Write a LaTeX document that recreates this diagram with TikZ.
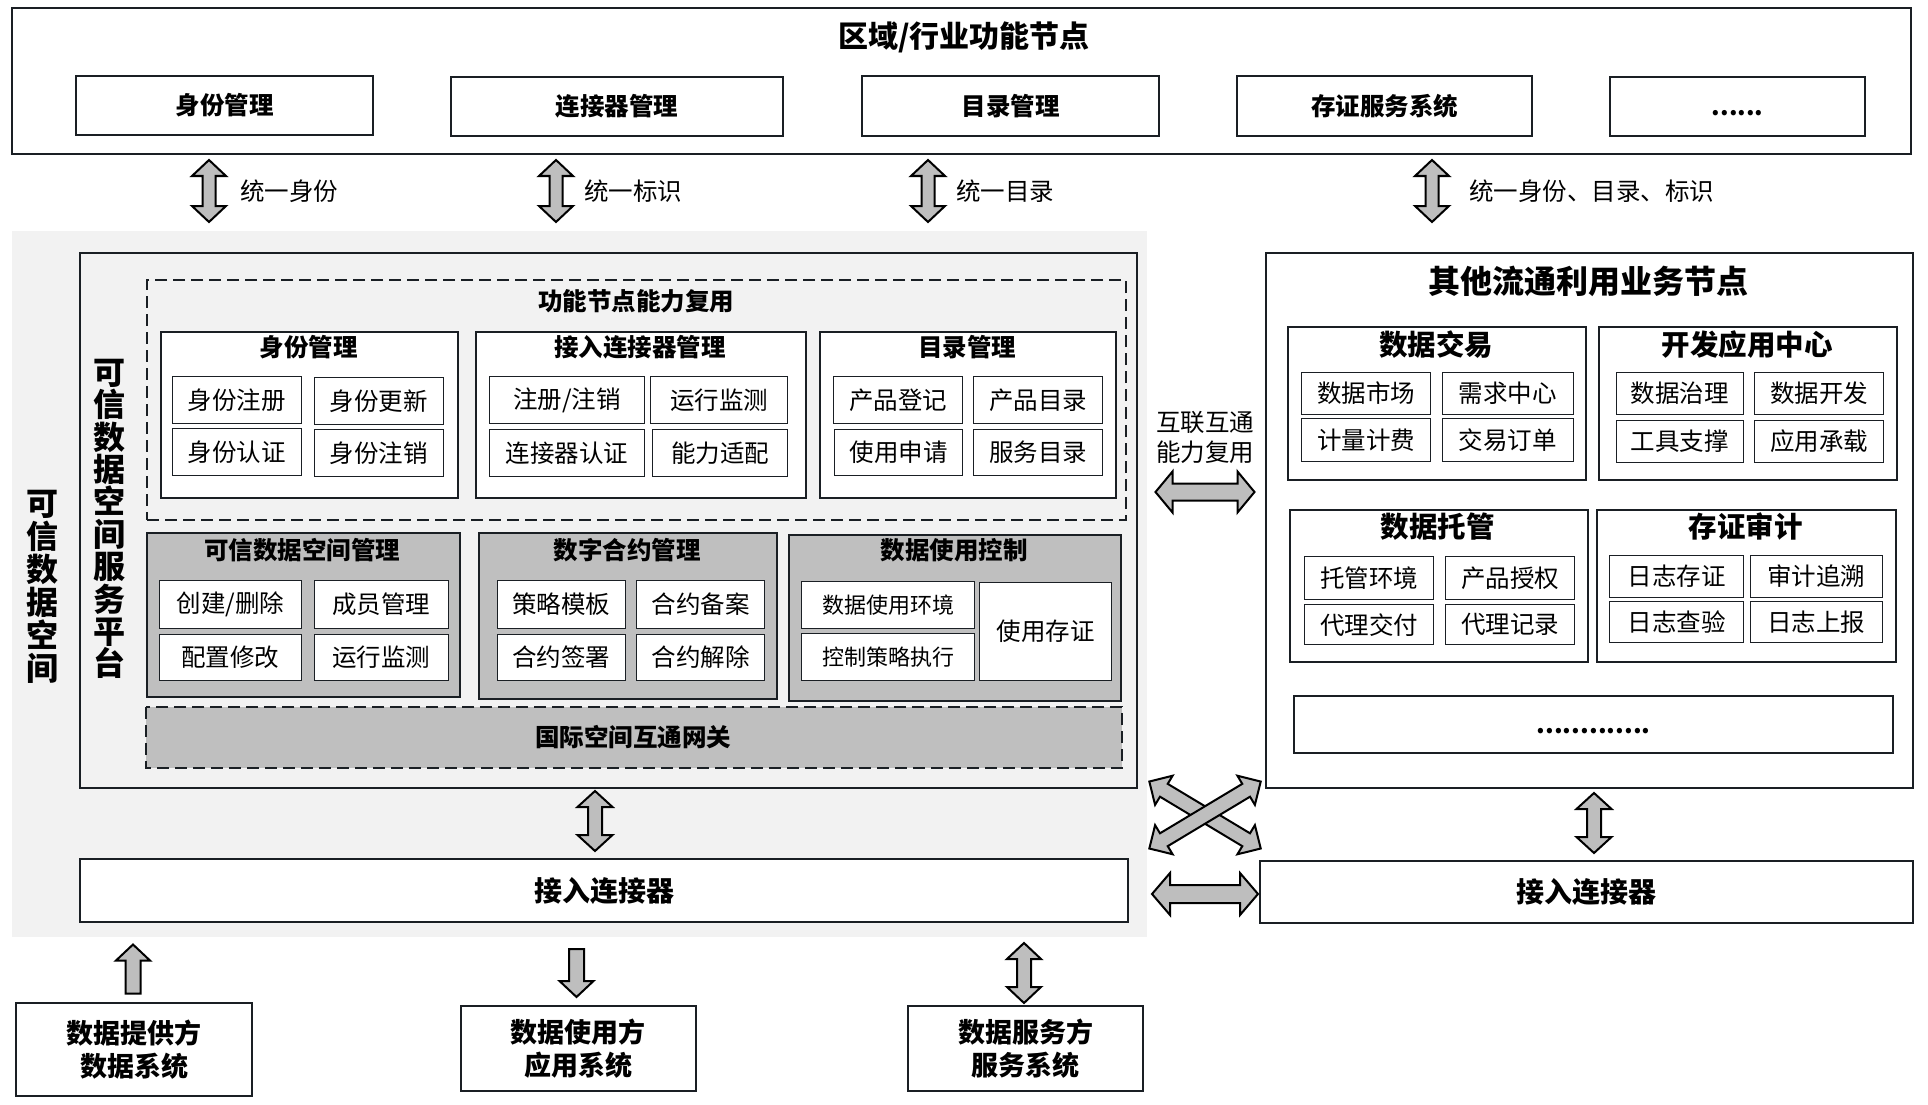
\documentclass[tikz,border=0pt]{standalone}
\usepackage{fontspec}
\setmainfont{Noto Sans CJK SC}
\definecolor{bc}{HTML}{1A1F24}
\definecolor{lg}{HTML}{F2F2F2}
\definecolor{mg}{HTML}{BFBFBF}
\definecolor{ag}{HTML}{BEBEBE}
\tikzset{
  frame/.style={draw=bc, line width=2.2pt},
  wbox/.style={frame, fill=white},
  lbox/.style={frame, fill=lg},
  gbox/.style={frame, fill=mg},
  dbox/.style={draw=bc, line width=2pt, dash pattern=on 12pt off 6pt},
  item/.style={draw=bc, line width=1.2pt, fill=white, font=\fontsize{24.5}{29}\selectfont},
  ttl/.style={font=\fontsize{24.5}{29}\selectfont\bfseries, inner sep=0pt},
  bigttl/.style={font=\fontsize{30}{36}\selectfont\bfseries, inner sep=0pt},
  lbl/.style={font=\fontsize{24.5}{30}\selectfont, inner sep=0pt},
  blk/.style={draw=black, line width=2pt, fill=ag, line join=miter},
}
\newcommand{\bx}[7]{\node[#2, anchor=north west, inner sep=0pt, minimum width={(#5)-(#3)}, minimum height={(#6)-(#4)}] (#1) at (#3,#4) {#7};}
% double arrow: cx cy angle L H S K
\newcommand{\dblarrow}[7]{\begin{scope}[shift={(#1,#2)}, rotate=#3]
 \draw[blk] ({-#4/2},0) -- ({-#4/2+#7},{#5}) -- ({-#4/2+#7},{#6}) -- ({#4/2-#7},{#6}) -- ({#4/2-#7},{#5}) -- ({#4/2},0) -- ({#4/2-#7},{-#5}) -- ({#4/2-#7},{-#6}) -- ({-#4/2+#7},{-#6}) -- ({-#4/2+#7},{-#5}) -- cycle;
\end{scope}}
\newcommand{\sglarrow}[7]{\begin{scope}[shift={(#1,#2)}, rotate=#3]
 \draw[blk] ({#4/2},0) -- ({#4/2-#7},{#5}) -- ({#4/2-#7},{#6}) -- ({-#4/2},{#6}) -- ({-#4/2},{-#6}) -- ({#4/2-#7},{-#6}) -- ({#4/2-#7},{-#5}) -- cycle;
\end{scope}}
\begin{document}
\begin{tikzpicture}[x=1pt,y=-1pt]
\useasboundingbox[fill=white] (0,0) rectangle (1928,1105);

% ---------- top regional nodes ----------
\bx{top}{wbox}{11}{7}{1910}{153}{}
\node[bigttl] (toptitle) at (964,37) {区域/行业功能节点};
\bx{t1}{wbox}{75}{75}{372}{134}{\fontsize{24.5}{29}\selectfont\bfseries 身份管理}
\bx{t2}{wbox}{450}{76}{782}{135}{\fontsize{24.5}{29}\selectfont\bfseries 连接器管理}
\bx{t3}{wbox}{861}{75}{1158}{135}{\fontsize{24.5}{29}\selectfont\bfseries 目录管理}
\bx{t4}{wbox}{1236}{75}{1531}{135}{\fontsize{24.5}{29}\selectfont\bfseries 存证服务系统}
\bx{t5}{wbox}{1609}{76}{1864}{135}{\fontsize{24.5}{29}\selectfont\bfseries \vphantom{国}......}

\dblarrow{209}{191}{90}{62}{17}{6.5}{16}
\dblarrow{556}{191}{90}{62}{17}{6.5}{16}
\dblarrow{928}{191}{90}{62}{17}{6.5}{16}
\dblarrow{1432}{191}{90}{62}{17}{6.5}{16}
\node[lbl, anchor=west] (u1) at (240,191) {统一身份};
\node[lbl, anchor=west] (u2) at (584,191) {统一标识};
\node[lbl, anchor=west] (u3) at (956,191) {统一目录};
\node[lbl, anchor=west] (u4) at (1469,191) {统一身份、目录、标识};

% ---------- trusted data space ----------
\fill[lg] (12,231) rectangle (1147,937);
\bx{plat}{lbox}{79}{252}{1136}{787}{}
\node[font=\fontsize{32}{33}\selectfont\bfseries, align=center, inner sep=0pt] (vt1) at (42,587) {可\\信\\数\\据\\空\\间};
\node[font=\fontsize{32}{32.4}\selectfont\bfseries, align=center, inner sep=0pt] (vt2) at (109,519) {可\\信\\数\\据\\空\\间\\服\\务\\平\\台};

\bx{reuse}{dbox}{146}{279}{1125}{519}{}
\node[ttl] (reuset) at (636,301) {功能节点能力复用};

\bx{s1}{wbox}{160}{331}{457}{497}{}
\node[ttl] at (308.5,347) {身份管理};
\bx{s1a}{item}{171.5}{376}{301}{423}{身份注册}
\bx{s1b}{item}{313.5}{377}{442.5}{424}{身份更新}
\bx{s1c}{item}{171.5}{428}{301}{475}{身份认证}
\bx{s1d}{item}{313.5}{429}{442.5}{476}{身份注销}

\bx{s2}{wbox}{475}{331}{805}{497}{}
\node[ttl] at (640,347) {接入连接器管理};
\bx{s2a}{item}{489}{376}{643.5}{423}{注册/注销}
\bx{s2b}{item}{650}{376}{787}{423}{运行监测}
\bx{s2c}{item}{489}{429}{643.5}{476}{连接器认证}
\bx{s2d}{item}{652}{429}{787}{476}{能力适配}

\bx{s3}{wbox}{819}{331}{1115}{497}{}
\node[ttl] at (967,347) {目录管理};
\bx{s3a}{item}{833}{376}{962}{423}{产品登记}
\bx{s3b}{item}{973}{376}{1102}{423}{产品目录}
\bx{s3c}{item}{834}{429}{962}{475}{使用申请}
\bx{s3d}{item}{973}{429}{1102}{475}{服务目录}

\bx{g1}{gbox}{146}{532}{458.5}{696}{}
\node[ttl] at (302,550) {可信数据空间管理};
\bx{g1a}{item}{158.6}{580}{301}{628}{创建/删除}
\bx{g1b}{item}{314}{580}{447.5}{628}{成员管理}
\bx{g1c}{item}{158.6}{634}{301}{680}{配置修改}
\bx{g1d}{item}{314}{634}{447.5}{680}{运行监测}

\bx{g2}{gbox}{478}{532}{775.6}{698}{}
\node[ttl] at (627,550) {数字合约管理};
\bx{g2a}{item}{496.6}{580}{625}{628}{策略模板}
\bx{g2b}{item}{636}{580}{764}{628}{合约备案}
\bx{g2c}{item}{496.6}{634}{625}{680}{合约签署}
\bx{g2d}{item}{636}{634}{764}{680}{合约解除}

\bx{g3}{gbox}{788}{534}{1120}{700}{}
\node[ttl] at (954,550) {数据使用控制};
\bx{g3a}{item}{801}{581}{974}{628}{\fontsize{22}{26}\selectfont 数据使用环境}
\bx{g3b}{item}{801}{633}{974}{680}{\fontsize{22}{26}\selectfont 控制策略执行}
\bx{g3c}{item}{979}{582}{1111}{680}{使用存证}

\bx{gate}{dbox}{146}{707}{1120}{766}{}
\fill[mg] (gate.north west) rectangle (gate.south east);
\draw[dbox] (gate.north west) rectangle (gate.south east);
\node[ttl] (gatet) at (633,737) {国际空间互通网关};

\dblarrow{595}{821}{90}{60}{17.5}{7}{16}
\bx{conL}{wbox}{79}{858}{1127}{921}{\fontsize{28}{33}\selectfont\bfseries 接入连接器}

% ---------- bottom parties ----------
\sglarrow{133}{969}{90}{49}{17}{7.5}{16}
\sglarrow{576.5}{973}{-90}{48}{17}{7.5}{16}
\dblarrow{1024}{973}{90}{60}{17}{7}{16}
\bx{p1}{wbox}{15}{1002}{251}{1095}{}
\node[font=\fontsize{27}{33}\selectfont\bfseries, align=center, inner sep=0pt] at (p1.center) {数据提供方\\数据系统};
\bx{p2}{wbox}{460}{1005}{694.5}{1090}{}
\node[font=\fontsize{27}{33}\selectfont\bfseries, align=center, inner sep=0pt] at (p2.center) {数据使用方\\应用系统};
\bx{p3}{wbox}{907}{1005}{1142}{1090}{}
\node[font=\fontsize{27}{33}\selectfont\bfseries, align=center, inner sep=0pt] at (p3.center) {数据服务方\\服务系统};

% ---------- right business nodes ----------
\bx{R}{wbox}{1264.5}{252}{1912}{787}{}
\node[font=\fontsize{32}{38}\selectfont\bfseries, inner sep=0pt] (Rt) at (1588,281) {其他流通利用业务节点};

\bx{r1}{wbox}{1287}{326}{1585}{479}{}
\node[font=\fontsize{28.5}{34}\selectfont\bfseries, inner sep=0pt] at (1436,345) {数据交易};
\bx{r1a}{item}{1301}{372}{1430}{414}{数据市场}
\bx{r1b}{item}{1442}{372}{1572.5}{414}{需求中心}
\bx{r1c}{item}{1301}{418}{1430}{461}{计量计费}
\bx{r1d}{item}{1442}{418}{1572.5}{461}{交易订单}

\bx{r2}{wbox}{1598}{326}{1896}{479}{}
\node[font=\fontsize{28.5}{34}\selectfont\bfseries, inner sep=0pt] at (1747,345) {开发应用中心};
\bx{r2a}{item}{1615.5}{372}{1743}{414}{数据治理}
\bx{r2b}{item}{1754}{372}{1883}{414}{数据开发}
\bx{r2c}{item}{1615.5}{420}{1743}{462}{工具支撑}
\bx{r2d}{item}{1754}{420}{1883}{462}{应用承载}

\bx{r3}{wbox}{1288.5}{509}{1586.6}{661}{}
\node[font=\fontsize{28.5}{34}\selectfont\bfseries, inner sep=0pt] at (1437.5,527) {数据托管};
\bx{r3a}{item}{1304}{556}{1433}{599}{托管环境}
\bx{r3b}{item}{1445}{556}{1574}{599}{产品授权}
\bx{r3c}{item}{1304}{604}{1433}{644}{代理交付}
\bx{r3d}{item}{1445}{604}{1574}{644}{代理记录}

\bx{r4}{wbox}{1596}{509}{1895}{661}{}
\node[font=\fontsize{28.5}{34}\selectfont\bfseries, inner sep=0pt] at (1745.5,527) {存证审计};
\bx{r4a}{item}{1609}{555}{1743}{597}{日志存证}
\bx{r4b}{item}{1749.5}{555}{1881.6}{597}{审计追溯}
\bx{r4c}{item}{1609}{601}{1743}{642}{日志查验}
\bx{r4d}{item}{1749.5}{601}{1881.6}{642}{日志上报}

\bx{r5}{wbox}{1293}{695}{1892}{752}{\fontsize{25}{30}\selectfont\bfseries \vphantom{国}.............}

\bx{conR}{wbox}{1259}{860}{1912}{922}{\fontsize{28}{33}\selectfont\bfseries 接入连接器}
\dblarrow{1594}{823}{90}{60}{17.5}{7}{16}

% ---------- interconnection arrows ----------
\node[lbl, align=center, font=\fontsize{24.5}{30}\selectfont] (hl) at (1205,437) {互联互通\\能力复用};
\dblarrow{1205}{492}{0}{99}{20.5}{8.5}{17}
\dblarrow{1205}{815}{-31}{130}{17}{7.5}{17}
\dblarrow{1205}{815}{31}{130}{17}{7.5}{17}
\dblarrow{1205}{894}{0}{106}{21}{9}{18}
\end{tikzpicture}
\end{document}
